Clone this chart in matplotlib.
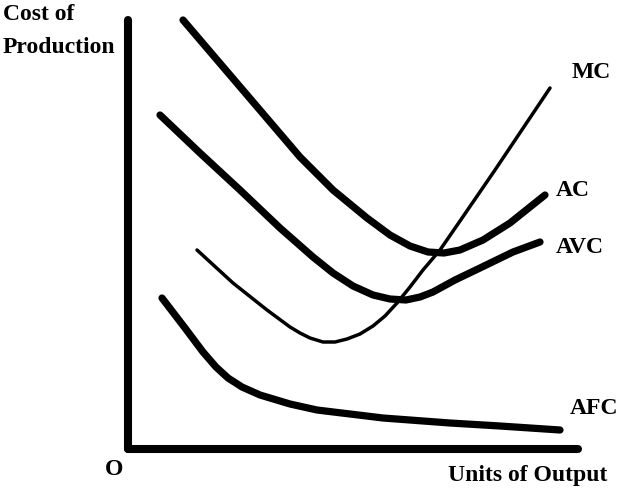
#!/usr/bin/env python3

import numpy as np
import matplotlib
matplotlib.use('Agg')
import matplotlib.pyplot as plt

#------------------------------------------------------------
# curve points (output, cost)
#------------------------------------------------------------
ac_x  = [55, 172, 205, 239, 262, 282, 300, 316, 332, 355, 382, 417]
ac_y  = [429, 292, 259, 231, 214, 203, 197, 196, 199, 209, 226, 254]

avc_x = [32, 72, 112, 152, 185, 205, 225, 245, 262, 278, 292, 305, 327, 352, 385, 412]
avc_y = [334, 296, 259, 221, 192, 176, 163, 154, 150, 149, 152, 157, 169, 181, 197, 207]

mc_x  = [69, 105, 139, 162, 172, 182, 195, 207, 219, 232, 245, 257, 269, 282, 295, 312, 332, 367, 422]
mc_y  = [199, 166, 139, 122, 116, 111, 107, 107, 110, 115, 123, 133, 146, 162, 179, 199, 228, 279, 361]

afc_x = [34, 57, 75, 88, 100, 114, 132, 162, 189, 222, 255, 322, 372, 432]
afc_y = [151, 121, 97, 82, 71, 62, 54, 45, 39, 35, 31, 26, 23, 19]

curve_labels = ["MC", "AC", "AVC", "AFC"]
label_pos = [(444, 371), (428, 253), (428, 196), (442, 35)]

W, H = 618, 497
fig = plt.figure(figsize=(W / 100, H / 100), dpi=100)
ax = fig.add_axes([128 / W, 48 / H, 450 / W, 429 / H])
ax.set_xlim(0, 450)
ax.set_ylim(0, 429)

font = dict(family='Liberation Serif', weight='bold', color='black', fontsize=17)

thick = 5.2
kw = dict(color='black', solid_capstyle='round', solid_joinstyle='round', clip_on=False)
ax.plot(ac_x, ac_y, lw=thick, **kw)
ax.plot(avc_x, avc_y, lw=thick, **kw)
ax.plot(afc_x, afc_y, lw=thick, **kw)
ax.plot(mc_x, mc_y, lw=2.5, **kw)

for name, (lx, ly) in zip(curve_labels, label_pos):
    ax.text(lx, ly, name, ha='left', va='baseline', clip_on=False, **font)

# axes: only left and bottom, heavy
for side in ['top', 'right']:
    ax.spines[side].set_visible(False)
for side in ['left', 'bottom']:
    ax.spines[side].set_linewidth(5.8)
    ax.spines[side].set_capstyle('round')
ax.set_xticks([])
ax.set_yticks([])

fig.text(3 / W, 1 - 20 / H, "Cost of", ha='left', va='baseline', **font)
fig.text(3 / W, 1 - 53 / H, "Production", ha='left', va='baseline', **font)
fig.text(105 / W, 1 - 475 / H, "O", ha='left', va='baseline', **font)
fig.text(448 / W, 1 - 481 / H, "Units of Output", ha='left', va='baseline', **font)

fig.savefig("out.png", dpi=100)
